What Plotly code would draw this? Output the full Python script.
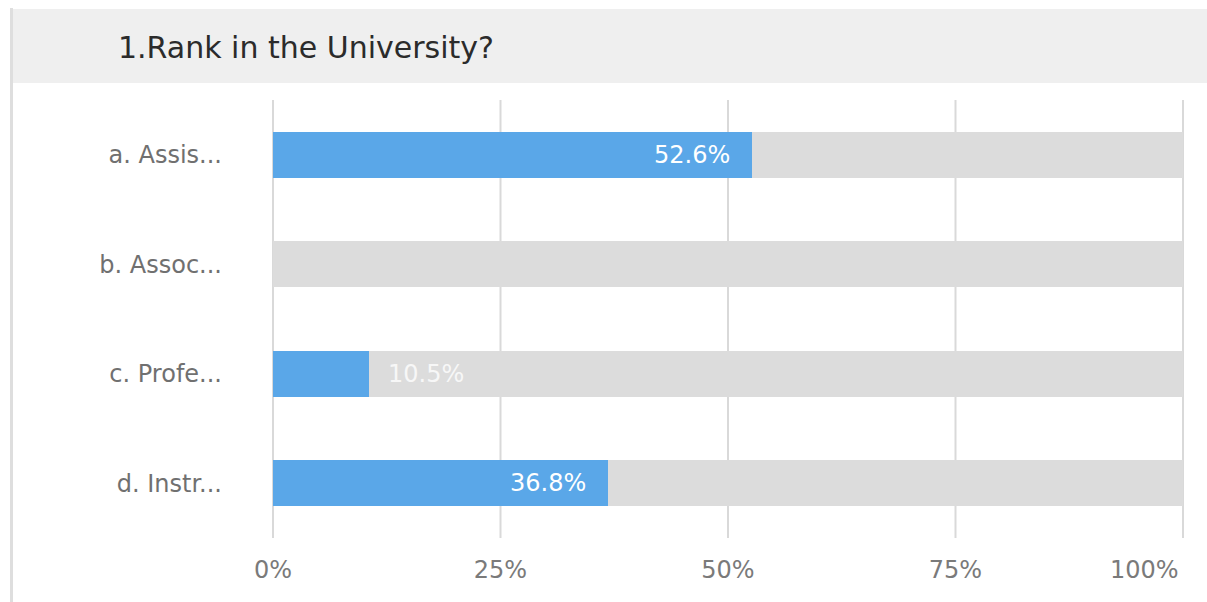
import plotly.graph_objects as go

# Survey question and answer shares (percent of respondents)
question = "1.Rank in the University?"
categories = ["a. Assis...", "b. Assoc...", "c. Profe...", "d. Instr..."]
shares = [52.6, 0.0, 10.5, 36.8]
full_scale = [100, 100, 100, 100]
tick_values = [0, 25, 50, 75, 100]
tick_labels = ["0%", "25%", "50%", "75%", "100%"]

W, H = 1207, 602
M_L, M_R, M_T, M_B = 273, 24, 100, 64
PW = W - M_L - M_R
PH = H - M_T - M_B
X_MAX = 100

FONT = "DejaVu Sans"
BLUE = "#5aa7e8"
TRACK = "#dcdcdc"
GRID = "#d9d9d9"


def px_x(px):
    """Convert a page x pixel to plot-area paper fraction."""
    return (px - M_L) / PW


def px_y(py):
    """Convert a page y pixel (from top) to plot-area paper fraction."""
    return (H - M_B - py) / PH


fig = go.Figure()

# Gray track behind every answer
fig.add_trace(go.Bar(
    y=categories, x=full_scale, orientation="h",
    marker=dict(color=TRACK, line=dict(width=0)),
    width=0.42, hoverinfo="skip", showlegend=False,
))

# Blue share bars
fig.add_trace(go.Bar(
    y=categories, x=shares, orientation="h",
    marker=dict(color=BLUE, line=dict(width=0)),
    width=0.42, showlegend=False,
))

annotations = []
# Value labels: inside the bar end when there is room, otherwise just past it
for cat, v in zip(categories, shares):
    if v <= 0:
        continue
    inside = v >= 20
    annotations.append(dict(
        x=v, y=cat, xref="x", yref="y",
        text=f"{v:.1f}%", showarrow=False,
        xanchor="right" if inside else "left",
        xshift=-20 if inside else 17,
        yanchor="middle",
        font=dict(family=FONT, size=24, color="#ffffff" if inside else "#f7f7f7"),
    ))

# Last x tick label sits flush with the right edge
annotations.append(dict(
    x=tick_values[-1], xref="x", y=px_y(570), yref="paper",
    text=tick_labels[-1], showarrow=False,
    xanchor="right", xshift=-2, yanchor="middle",
    font=dict(family=FONT, size=24, color="#7a7a7a"),
))

shapes = [
    # header band
    dict(type="rect", xref="paper", yref="paper",
         x0=px_x(12), x1=px_x(W + 2), y0=px_y(83), y1=px_y(9),
         fillcolor="#efefef", line=dict(width=0), layer="below"),
    # thin border along the left edge of the card
    dict(type="line", xref="paper", yref="paper",
         x0=px_x(11.5), x1=px_x(11.5), y0=px_y(8), y1=px_y(H + 2),
         line=dict(color="#dedede", width=3), layer="below"),
]

# Vertical grid lines at every tick, drawn under the bars (paper refs so the
# edge lines are not clipped by the plot area)
for tv in tick_values:
    shapes.append(dict(type="line", xref="paper", yref="paper",
                       x0=tv / X_MAX, x1=tv / X_MAX, y0=0, y1=px_y(100),
                       line=dict(color=GRID, width=2), layer="below"))

fig.update_layout(
    width=W, height=H,
    margin=dict(l=M_L, r=M_R, t=M_T, b=M_B, autoexpand=False),
    paper_bgcolor="#ffffff", plot_bgcolor="#ffffff",
    barmode="overlay", bargap=0,
    title=dict(
        text=question, x=118 / W, xanchor="left", xref="container",
        y=1 - 47 / H, yanchor="middle", yref="container",
        font=dict(family=FONT, size=30, color="#2b2b2b"),
    ),
    annotations=annotations,
    shapes=shapes,
    xaxis=dict(
        range=[0, X_MAX], tickvals=tick_values[:-1], ticktext=tick_labels[:-1],
        showgrid=False, zeroline=False, showline=False, ticks="",
        ticklabelstandoff=15, automargin=False,
        tickfont=dict(family=FONT, size=24, color="#7a7a7a"),
        fixedrange=True,
    ),
    yaxis=dict(
        autorange="reversed", showgrid=False, zeroline=False, showline=False,
        ticks="", ticklabelstandoff=50, automargin=False,
        tickfont=dict(family=FONT, size=24, color="#707070"),
        fixedrange=True,
    ),
    font=dict(family=FONT),
)

fig.write_html("out.html", config={"displayModeBar": False})
